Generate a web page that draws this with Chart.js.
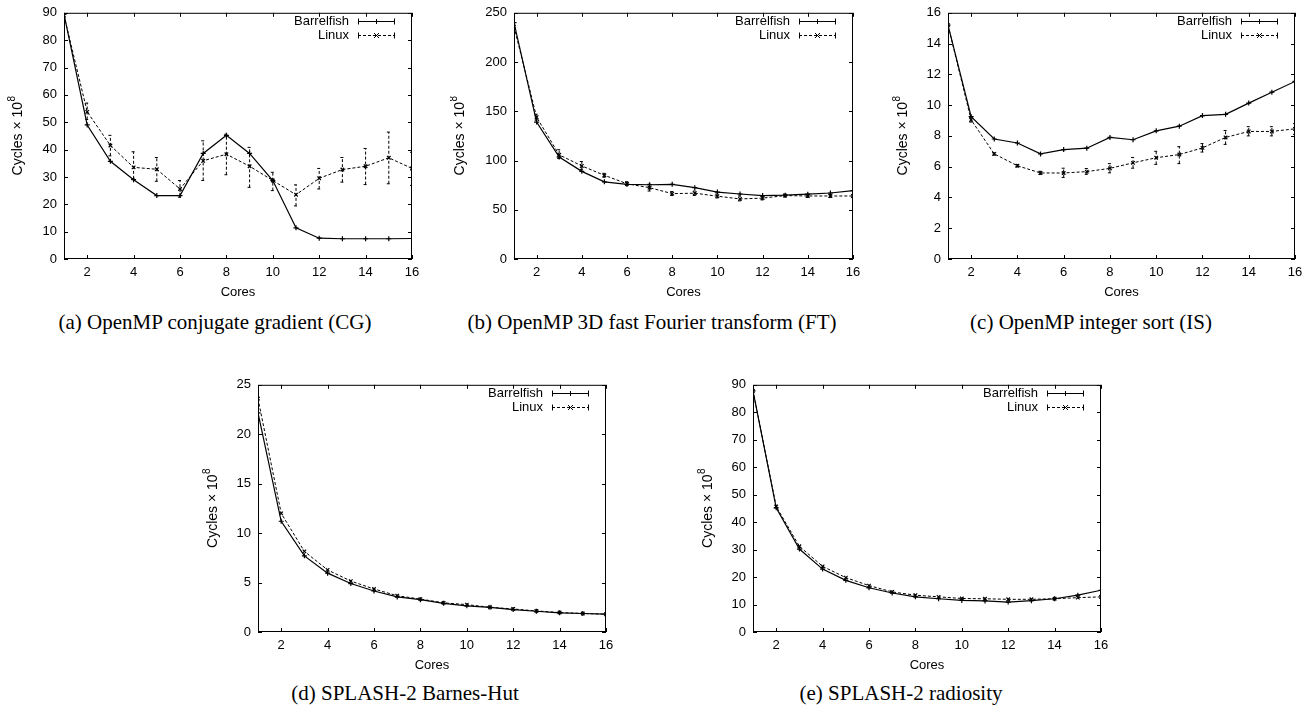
<!DOCTYPE html>
<html>
<head>
<meta charset="utf-8">
<script src="https://cdn.jsdelivr.net/npm/chart.js"></script>
<style>
  html, body { margin: 0; padding: 0; background: #fff; }
  body { width: 1314px; height: 711px; position: relative; overflow: hidden; }
  canvas { position: absolute; }
  .caption {
    position: absolute;
    font-family: "Liberation Serif", "Times New Roman", serif;
    font-size: 21px;
    line-height: 21px;
    color: #000;
    white-space: nowrap;
    transform: translateX(-50%);
  }
</style>
</head>
<body>
<script>
// Cores on the x axis and the labelled x ticks
const cores = [1, 2, 3, 4, 5, 6, 7, 8, 9, 10, 11, 12, 13, 14, 15, 16];
const xTickValues = [2, 4, 6, 8, 10, 12, 14, 16];

// (a) OpenMP conjugate gradient
const cgBarrelfish = [89.5, 49, 35.7, 29, 23.2, 23.2, 38.6, 45.2, 38.6, 28.7, 11.4, 7.6, 7.4, 7.4, 7.4, 7.5];
const cgLinux = [89, 53.8, 41.5, 33.5, 32.8, 25.6, 35.9, 38.3, 33.9, 28.7, 23.5, 29.5, 32.7, 33.9, 37, 33.1];
const cgLinuxLow = [88.5, 51, 37.7, 29.3, 28.4, 22.6, 28.7, 30.8, 26.2, 25, 19.4, 25.6, 28.1, 27.2, 27.5, 26.9];
const cgLinuxHigh = [89.5, 57, 45.2, 39.2, 37.1, 28.7, 43.2, 45.6, 40.8, 31.7, 27.1, 33.1, 37.1, 40.4, 46.4, 39];

// (b) OpenMP 3D FFT
const ftBarrelfish = [240, 139, 103.5, 89, 78.4, 75.8, 75.4, 75.8, 72.4, 68, 66, 64.4, 64.8, 65.8, 67, 69.4];
const ftLinux = [236, 144, 105.8, 94.5, 85, 76.4, 72.4, 66.4, 66.8, 63.8, 61, 61.8, 64.4, 64, 64, 64];
const ftLinuxLow = [233, 141, 102, 91, 83, 74.5, 69, 64.5, 64.5, 62, 59, 60, 63, 62.5, 62.5, 62.5];
const ftLinuxHigh = [239, 147, 111, 99, 87, 78.5, 76, 68.5, 69, 66, 64, 63.5, 66, 65.5, 65.5, 65.5];

// (c) OpenMP integer sort
const isBarrelfish = [15.2, 9.25, 7.8, 7.54, 6.83, 7.11, 7.2, 7.9, 7.75, 8.33, 8.63, 9.32, 9.4, 10.13, 10.84, 11.54];
const isLinux = [15.2, 9.04, 6.83, 6.06, 5.59, 5.59, 5.68, 5.89, 6.25, 6.58, 6.79, 7.22, 7.9, 8.29, 8.29, 8.46];
const isLinuxLow = [15.1, 8.9, 6.75, 5.98, 5.5, 5.3, 5.5, 5.6, 5.9, 6.15, 6.2, 6.95, 7.45, 8.0, 8.0, 8.1];
const isLinuxHigh = [15.3, 9.2, 6.9, 6.14, 5.7, 5.9, 5.88, 6.2, 6.6, 7.0, 7.3, 7.5, 8.35, 8.6, 8.6, 8.8];

// (d) SPLASH-2 Barnes-Hut
const bhBarrelfish = [22.16, 11.2, 7.7, 5.95, 4.9, 4.15, 3.55, 3.27, 2.9, 2.65, 2.5, 2.27, 2.1, 1.94, 1.87, 1.8];
const bhLinux = [23.6, 12, 8.15, 6.28, 5.15, 4.35, 3.67, 3.33, 2.95, 2.77, 2.5, 2.33, 2.13, 1.97, 1.87, 1.8];

// (e) SPLASH-2 radiosity
const radBarrelfish = [87.8, 45.2, 30.2, 22.9, 18.8, 16.1, 14.2, 12.8, 12.1, 11.5, 11.3, 10.9, 11.4, 12.1, 13.4, 15.2];
const radLinux = [87.8, 45.7, 31.2, 23.9, 19.8, 16.9, 14.6, 13.4, 12.8, 12.2, 12.1, 11.9, 11.9, 12.1, 12.5, 12.8];

// Panel layout: plot area [left, top, right, bottom] in page pixels
const panels = [
  { caption: '(a) OpenMP conjugate gradient (CG)', area: [64, 10, 412, 259], yMax: 90, yStep: 10, titleOff: 46,
    capX: 215, capY: 330, bf: cgBarrelfish, lx: cgLinux, lxLow: cgLinuxLow, lxHigh: cgLinuxHigh },
  { caption: '(b) OpenMP 3D fast Fourier transform (FT)', area: [514, 10, 853, 259], yMax: 250, yStep: 50, titleOff: 54,
    capX: 652, capY: 330, bf: ftBarrelfish, lx: ftLinux, lxLow: ftLinuxLow, lxHigh: ftLinuxHigh },
  { caption: '(c) OpenMP integer sort (IS)', area: [948, 10, 1295, 259], yMax: 16, yStep: 2, titleOff: 45,
    capX: 1091, capY: 330, bf: isBarrelfish, lx: isLinux, lxLow: isLinuxLow, lxHigh: isLinuxHigh },
  { caption: '(d) SPLASH-2 Barnes-Hut', area: [258, 382, 606, 632], yMax: 25, yStep: 5, titleOff: 45,
    capX: 405, capY: 701, bf: bhBarrelfish, lx: bhLinux },
  { caption: '(e) SPLASH-2 radiosity', area: [753, 382, 1101, 632], yMax: 90, yStep: 10, titleOff: 45,
    capX: 901, capY: 701, bf: radBarrelfish, lx: radLinux }
];

const SANS = '"Liberation Sans", Arial, sans-serif';
const PAD_LEFT = 64, PAD_TOP = 12, PAD_RIGHT = 24, X_AXIS_H = 44;

Chart.defaults.color = '#000';
Chart.defaults.font.family = SANS;

// gnuplot style markers
function drawMarker(ctx, style, x, y, r) {
  if (style === 'crossRot') {
    ctx.moveTo(x - r, y - r); ctx.lineTo(x + r, y + r);
    ctx.moveTo(x - r, y + r); ctx.lineTo(x + r, y - r);
  } else {
    ctx.moveTo(x - r, y); ctx.lineTo(x + r, y);
    ctx.moveTo(x, y - r); ctx.lineTo(x, y + r);
  }
}

// Box round the plot with inward ticks on all four sides
const gnuplotFrame = {
  id: 'gnuplotFrame',
  afterDatasetsDraw(chart) {
    const { ctx, chartArea: a, scales: { x, y } } = chart;
    ctx.save();
    ctx.strokeStyle = '#000';
    ctx.lineWidth = 1;
    ctx.setLineDash([]);
    ctx.beginPath();
    x.ticks.forEach(t => {
      const px = Math.round(x.getPixelForValue(t.value)) + 0.5;
      ctx.moveTo(px, a.bottom); ctx.lineTo(px, a.bottom - 4);
      ctx.moveTo(px, a.top); ctx.lineTo(px, a.top + 4);
    });
    y.ticks.forEach(t => {
      const py = Math.round(y.getPixelForValue(t.value)) + 0.5;
      ctx.moveTo(a.left, py); ctx.lineTo(a.left + 4, py);
      ctx.moveTo(a.right, py); ctx.lineTo(a.right - 4, py);
    });
    ctx.stroke();
    ctx.strokeRect(a.left + 0.5, a.top + 0.5, a.right - a.left - 1, a.bottom - a.top - 1);
    ctx.restore();
  }
};

// Vertical error bars with small caps
const errorBars = {
  id: 'errorBars',
  afterDatasetsDraw(chart) {
    const { ctx, chartArea: a, scales: { x, y } } = chart;
    ctx.save();
    ctx.beginPath();
    ctx.rect(a.left, a.top, a.right - a.left, a.bottom - a.top);
    ctx.clip();
    chart.data.datasets.forEach(ds => {
      if (!ds.errLow) return;
      ctx.strokeStyle = '#000';
      ctx.lineWidth = 1;
      ctx.setLineDash(ds.borderDash || []);
      ds.data.forEach((p, i) => {
        const px = x.getPixelForValue(p.x);
        const lo = y.getPixelForValue(ds.errLow[i]);
        const hi = y.getPixelForValue(ds.errHigh[i]);
        ctx.beginPath();
        ctx.moveTo(px, lo); ctx.lineTo(px, hi);
        ctx.moveTo(px - 2, lo); ctx.lineTo(px + 2, lo);
        ctx.moveTo(px - 2, hi); ctx.lineTo(px + 2, hi);
        ctx.stroke();
      });
    });
    ctx.restore();
  }
};

// y axis title with a real superscript exponent
const yTitle = {
  id: 'yTitle',
  afterDraw(chart, args, opts) {
    const { ctx, chartArea: a } = chart;
    ctx.save();
    ctx.translate(opts.x, (a.top + a.bottom) / 2);
    ctx.rotate(-Math.PI / 2);
    ctx.fillStyle = '#000';
    ctx.textBaseline = 'middle';
    ctx.font = '14px ' + SANS;
    const base = 'Cycles × 10';
    ctx.font = '10px ' + SANS;
    const supW = ctx.measureText('8').width;
    ctx.font = '14px ' + SANS;
    const baseW = ctx.measureText(base).width;
    const x0 = -(baseW + supW) / 2;
    ctx.textAlign = 'left';
    ctx.fillText(base, x0, 0);
    ctx.font = '10px ' + SANS;
    ctx.fillText('8', x0 + baseW + 0.5, -6);
    ctx.restore();
  }
};

// Key in the top right corner, text then line sample
const gnuplotKey = {
  id: 'gnuplotKey',
  afterDraw(chart) {
    const { ctx, chartArea: a } = chart;
    ctx.save();
    ctx.font = '13px ' + SANS;
    ctx.textAlign = 'right';
    ctx.textBaseline = 'middle';
    ctx.fillStyle = '#000';
    ctx.strokeStyle = '#000';
    ctx.lineWidth = 1;
    chart.data.datasets.forEach((ds, i) => {
      const yy = Math.round(a.top + 8 + i * 14) + 0.5;
      ctx.fillText(ds.label, a.right - 63, yy);
      const x0 = a.right - 54, x1 = a.right - 17;
      ctx.setLineDash(ds.borderDash || []);
      ctx.beginPath(); ctx.moveTo(x0, yy); ctx.lineTo(x1, yy); ctx.stroke();
      ctx.setLineDash([]);
      ctx.beginPath();
      ctx.moveTo(x0 + 0.5, yy - 3); ctx.lineTo(x0 + 0.5, yy + 3);
      ctx.moveTo(x1 - 0.5, yy - 3); ctx.lineTo(x1 - 0.5, yy + 3);
      drawMarker(ctx, ds.pointStyle, (x0 + x1) / 2, yy, 2.5);
      ctx.stroke();
    });
    ctx.restore();
  }
};

function points(values) {
  return cores.map((c, i) => ({ x: c, y: values[i] }));
}

panels.forEach(p => {
  const [l, t, r, b] = p.area;
  const w = (r - l) + PAD_LEFT + PAD_RIGHT;
  const h = (b - t) + PAD_TOP + X_AXIS_H;

  const canvas = document.createElement('canvas');
  canvas.width = w;
  canvas.height = h;
  canvas.style.left = (l - PAD_LEFT) + 'px';
  canvas.style.top = (t - PAD_TOP) + 'px';
  canvas.style.width = w + 'px';
  canvas.style.height = h + 'px';
  document.body.appendChild(canvas);

  const cap = document.createElement('div');
  cap.className = 'caption';
  cap.textContent = p.caption;
  cap.style.left = p.capX + 'px';
  cap.style.top = (p.capY - 17.6) + 'px';
  document.body.appendChild(cap);

  new Chart(canvas, {
    type: 'line',
    data: {
      datasets: [{
        label: 'Barrelfish',
        data: points(p.bf),
        borderColor: '#000',
        borderWidth: 1.2,
        pointStyle: 'cross',
        pointRadius: 2.5,
        pointBorderWidth: 1.2,
        pointBorderColor: '#000',
        tension: 0,
        fill: false
      }, {
        label: 'Linux',
        data: points(p.lx),
        borderColor: '#000',
        borderWidth: 1,
        borderDash: [3, 2],
        pointStyle: 'crossRot',
        pointRadius: 2.5,
        pointBorderWidth: 1.2,
        pointBorderColor: '#000',
        tension: 0,
        fill: false,
        errLow: p.lxLow,
        errHigh: p.lxHigh
      }]
    },
    options: {
      responsive: false,
      animation: false,
      events: [],
      layout: { padding: { left: 0, top: PAD_TOP, right: PAD_RIGHT, bottom: 0 } },
      plugins: {
        legend: { display: false },
        tooltip: { enabled: false },
        yTitle: { x: PAD_LEFT - p.titleOff }
      },
      scales: {
        x: {
          type: 'linear',
          min: 1,
          max: 16,
          grid: { display: false, drawTicks: false },
          border: { display: false },
          afterBuildTicks: scale => { scale.ticks = xTickValues.map(v => ({ value: v })); },
          afterFit: scale => { scale.height = X_AXIS_H; },
          ticks: { padding: 6, font: { size: 13 }, maxRotation: 0, autoSkip: false },
          title: { display: true, text: 'Cores', font: { size: 13 }, padding: { top: 0, bottom: 3 } }
        },
        y: {
          min: 0,
          max: p.yMax,
          grid: { display: false, drawTicks: false },
          border: { display: false },
          afterFit: scale => { scale.width = PAD_LEFT; },
          ticks: { stepSize: p.yStep, padding: 7, font: { size: 13 } }
        }
      }
    },
    plugins: [errorBars, gnuplotFrame, yTitle, gnuplotKey]
  });
});
</script>
</body>
</html>
